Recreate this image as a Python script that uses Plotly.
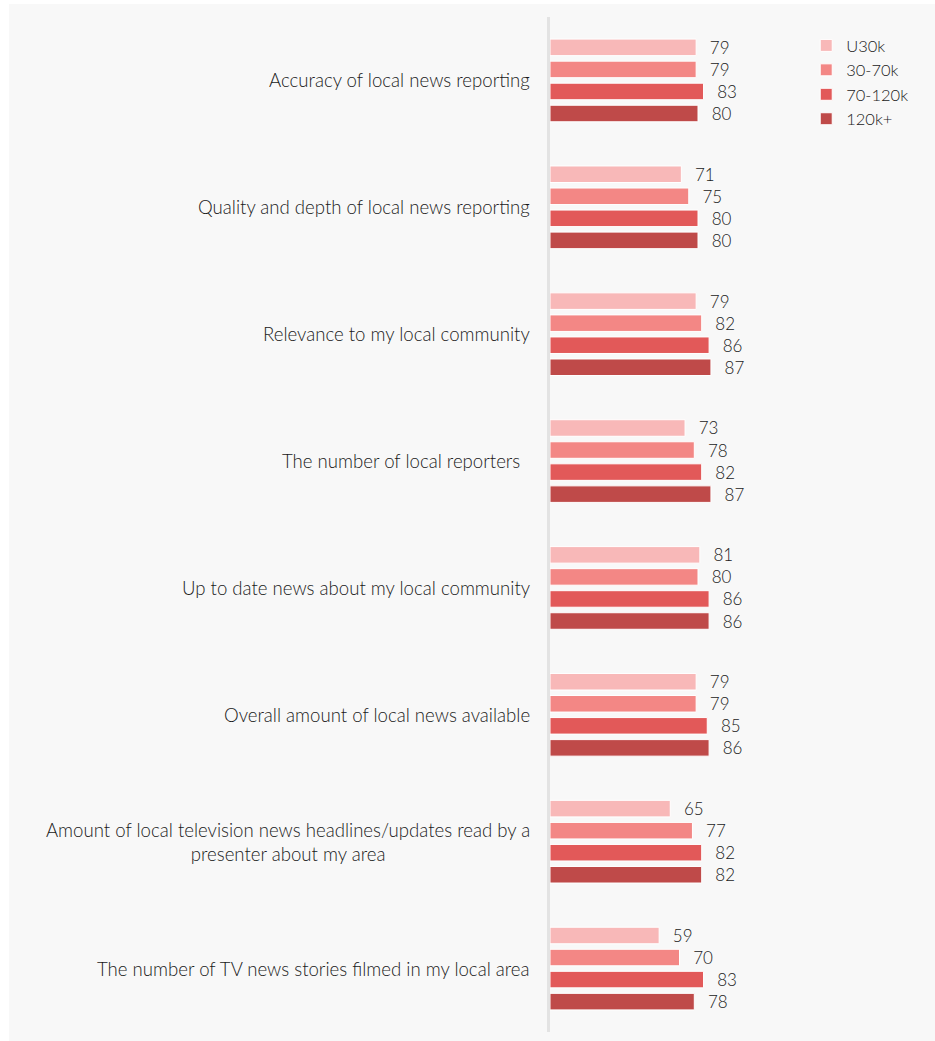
import plotly.graph_objects as go

# Survey items, listed top to bottom
categories = [
    "Accuracy of local news reporting",
    "Quality and depth of local news reporting",
    "Relevance to my local community",
    "The number of local reporters\u00a0\u00a0",
    "Up to date news about my local community",
    "Overall amount of local news available",
    "Amount of local television news headlines/updates read by a<br>presenter about my area",
    "The number of TV news stories filmed in my local area",
]

# Income bands
series_names = ["U30k", "30-70k", "70-120k", "120k+"]

u30k = [79, 71, 79, 73, 81, 79, 65, 59]
k30_70 = [79, 75, 82, 78, 80, 79, 77, 70]
k70_120 = [83, 80, 86, 82, 86, 85, 82, 83]
k120_plus = [80, 80, 87, 87, 86, 86, 82, 78]

series_values = [u30k, k30_70, k70_120, k120_plus]
colors = ["#f8b8b8", "#f38785", "#e25959", "#bf4a49"]

FONT = "Lato"
TEXT_COLOR = "#1a1a1a"

fig = go.Figure()
for name, vals, col in zip(series_names, series_values, colors):
    fig.add_trace(go.Bar(
        name=name,
        y=categories,
        x=vals,
        orientation="h",
        marker=dict(color=col, line=dict(color="white", width=1)),
        text=[f"\u2002\u2009{v}" for v in vals],
        textposition="outside",
        textfont=dict(family=FONT, size=17, color=TEXT_COLOR, weight=300),
        constraintext="none",
        cliponaxis=False,
        hoverinfo="x+name",
    ))

# Category labels, right aligned next to the axis, multi-line labels centred
annotations = [
    dict(
        x=0, xref="paper", y=cat, yref="y",
        text=cat, showarrow=False,
        xanchor="right", yanchor="middle", align="center",
        xshift=-18,
        font=dict(family=FONT, size=18.6, color=TEXT_COLOR, weight=300),
    )
    for cat in categories
]

fig.update_layout(
    width=935,
    height=1041,
    margin=dict(l=550, r=200, t=17, b=9),
    paper_bgcolor="white",
    plot_bgcolor="rgba(0,0,0,0)",
    barmode="group",
    bargap=0.305,
    bargroupgap=0.25,
    font=dict(family=FONT, size=17, color=TEXT_COLOR),
    showlegend=True,
    legend=dict(
        x=1.385, y=0.989, xanchor="left", yanchor="top",
        bgcolor="rgba(0,0,0,0)",
        font=dict(family=FONT, size=16.5, color=TEXT_COLOR, weight=300),
        traceorder="normal",
    ),
    annotations=annotations,
    shapes=[
        dict(
            type="rect", xref="paper", yref="paper", layer="below",
            x0=(9 - 550) / 185, x1=(935 - 550) / 185,
            y0=(1032 - 1045) / 1015, y1=(1032 - 4) / 1015,
            fillcolor="#f8f8f8", line=dict(width=0),
        )
    ],
    xaxis=dict(
        range=[0, 100], visible=False, fixedrange=True,
    ),
    yaxis=dict(
        autorange="reversed",
        showticklabels=False,
        ticks="",
        showgrid=False,
        zeroline=False,
        showline=True,
        linecolor="#e3e3e3",
        linewidth=2.5,
        fixedrange=True,
    ),
)

fig.write_html("out.html")
